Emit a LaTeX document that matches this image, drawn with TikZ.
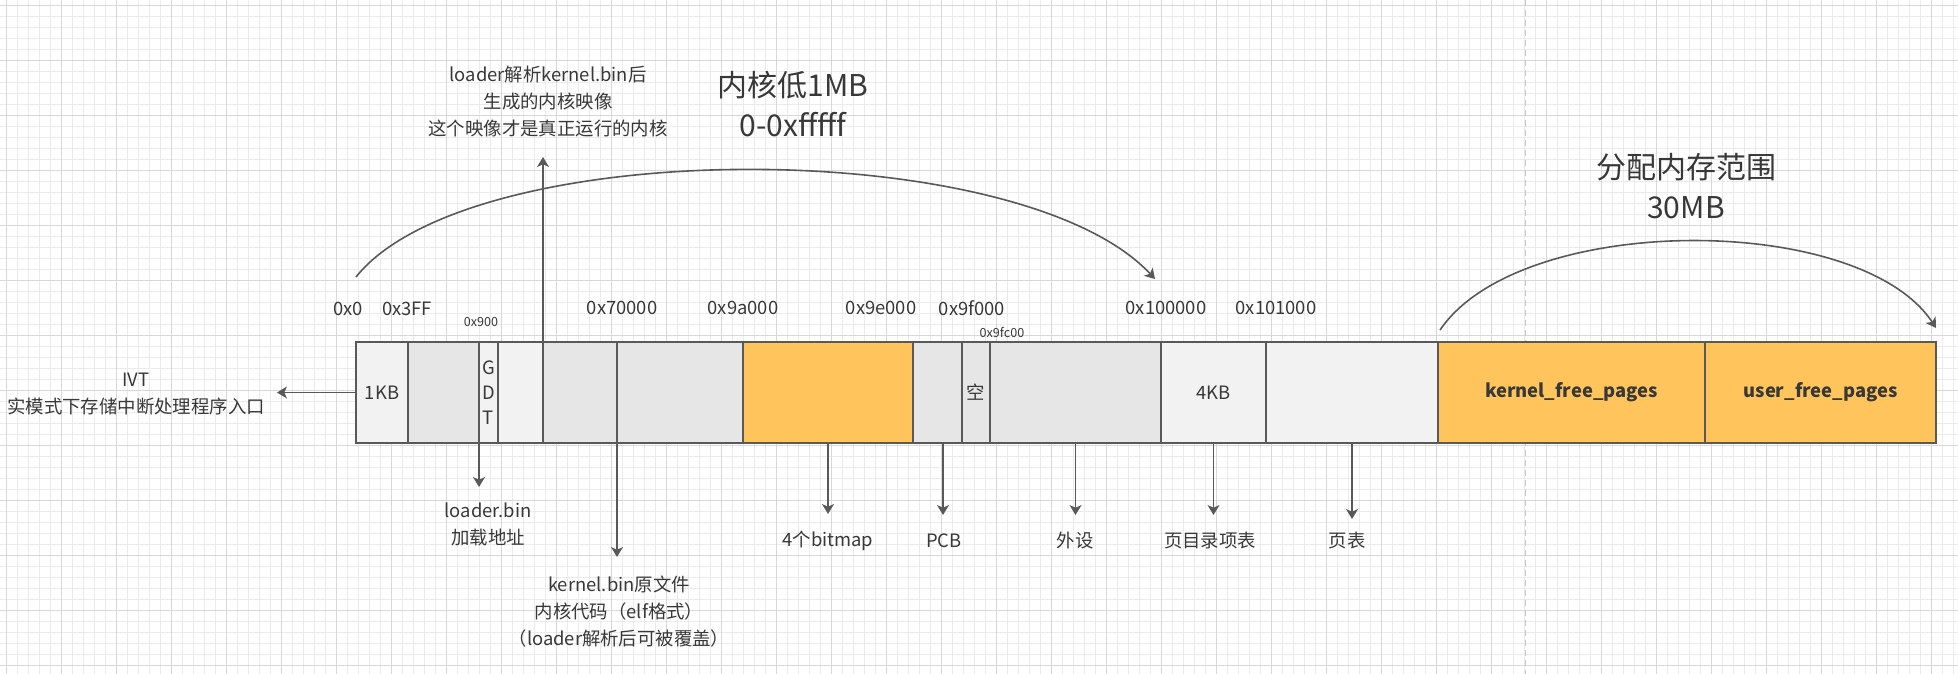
\documentclass[tikz,border=0pt]{standalone}
\usepackage{fontspec}
\setmainfont{Noto Sans CJK SC}
\usepackage{tikz}
\usetikzlibrary{arrows.meta}
\definecolor{memline}{HTML}{595959}
\definecolor{memlight}{HTML}{F2F2F2}
\definecolor{memdark}{HTML}{E6E6E6}
\definecolor{memorange}{HTML}{FFC55C}
\definecolor{memtext}{HTML}{383838}
\definecolor{gridminor}{HTML}{EBEBEB}
\definecolor{gridmajor}{HTML}{D8D8D8}
\newcommand{\blkmid}{392.5}
\newcommand{\memblk}[5]{\node[#1, minimum width={(#4-#3)*0.5pt}, anchor=west] (#2) at (#3,\blkmid) {#5};}

\begin{document}
\begin{tikzpicture}[x=0.5pt,y=-0.5pt]
  \tikzset{
    blk/.style = {draw=memline, line width=1.2pt, minimum height=50.5pt, inner sep=0pt, outer sep=0pt,
                  text=memtext, font=\fontsize{9.2}{12.5}\selectfont, align=center},
    lightblk/.style = {blk, fill=memlight},
    darkblk/.style = {blk, fill=memdark},
    poolblk/.style = {blk, fill=memorange, font=\fontsize{9.2}{12.5}\selectfont\bfseries},
    conn/.style = {draw=memline, line width=0.8pt, -{Stealth[length=5pt,width=6pt,inset=1.4pt]}},
    lbl/.style = {text=memtext, font=\fontsize{9.2}{13.5}\selectfont, align=center, inner sep=0pt},
    addr/.style = {lbl},
    smalladdr/.style = {lbl, font=\fontsize{6.3}{8}\selectfont},
    title/.style = {lbl, font=\fontsize{15}{20}\selectfont}
  }
  \useasboundingbox (0,0) rectangle (1958,674);
  % grid
  \foreach \gx in {6,17,...,1958} \draw[gridminor, line width=0.5pt] (\gx,0) -- (\gx,674);
  \foreach \gy in {5.5,16.5,...,674} \draw[gridminor, line width=0.5pt] (0,\gy) -- (1958,\gy);
  \foreach \gx in {6,61,...,1958} \draw[gridmajor, line width=0.5pt] (\gx,0) -- (\gx,674);
  \foreach \gy in {5.5,60.5,...,674} \draw[gridmajor, line width=0.5pt] (0,\gy) -- (1958,\gy);
  \draw[color=black!22, line width=0.5pt, dash pattern=on 3pt off 2pt] (1525,0) -- (1525,674);

  % memory layout
  \memblk{lightblk}{ivt}{356}{408}{1KB}
  \memblk{darkblk}{biosgap}{408}{479}{}
  \memblk{lightblk}{gdt}{479}{498}{G\\D\\T}
  \memblk{lightblk}{kimage}{498}{543}{}
  \memblk{darkblk}{lowfree}{543}{617}{}
  \memblk{darkblk}{kfile}{617}{743}{}
  \memblk{poolblk}{bitmap}{743}{913}{}
  \memblk{darkblk}{pcb}{913}{962}{}
  \memblk{darkblk}{hole}{962}{990}{空}
  \memblk{darkblk}{periph}{990}{1161}{}
  \memblk{lightblk}{pdt}{1161}{1266}{4KB}
  \memblk{lightblk}{pt}{1266}{1438}{}
  \memblk{poolblk}{kpool}{1438}{1705}{kernel\_free\_pages}
  \memblk{poolblk}{upool}{1705}{1936}{user\_free\_pages}

  % addresses
  \node[addr] (a0) at (348,309) {0x0};
  \node[addr] (a3ff) at (407,309) {0x3FF};
  \node[smalladdr] (a900) at (481,322) {0x900};
  \node[addr] (a70000) at (622,308) {0x70000};
  \node[addr] (a9a000) at (743,308) {0x9a000};
  \node[addr] (a9e000) at (881,308) {0x9e000};
  \node[addr] (a9f000) at (972,308) {0x9f000};
  \node[smalladdr] (a9fc00) at (1002,332) {0x9fc00};
  \node[addr] (a100000) at (1166,308) {0x100000};
  \node[addr] (a101000) at (1276,308) {0x101000};

  % ranges
  \node[title] (lowmb) at (793,104) {内核低1MB\\0-0xfffff};
  \node[title] (poolsz) at (1686,186) {分配内存范围\\30MB};
  \coordinate (lowstart) at (356,277);
  \coordinate (lowend) at (1155,279);
  \coordinate (poolstart) at (1440,330);
  \coordinate (poolend) at (1936,328);
  \draw[conn] (lowstart) .. controls (470,134) and (1020,134) .. (lowend);
  \draw[conn] (poolstart) .. controls (1520,212) and (1860,212) .. (poolend);

  % notes
  \coordinate (ivtend) at (277,\blkmid);
  \coordinate (kimgend) at (543,157);
  \coordinate (ldrend) at (479,487);
  \coordinate (kfileend) at (617,557);
  \coordinate (bmpend) at (828,514);
  \coordinate (pcbend) at (943,515);
  \coordinate (periphend) at (1075.5,515);
  \coordinate (pdtend) at (1213.5,515);
  \coordinate (ptend) at (1352,519);
  \draw[conn] (ivt.west) -- (ivtend);
  \draw[conn] (kimage.north east) -- (kimgend);
  \draw[conn] (gdt.south west) -- (ldrend);
  \draw[conn] (kfile.south west) -- (kfileend);
  \draw[conn] (bitmap.south) -- (bmpend);
  \draw[conn] ([xshift=2.75pt]pcb.south) -- (pcbend);
  \draw[conn] (periph.south) -- (periphend);
  \draw[conn] (pdt.south) -- (pdtend);
  \draw[conn] (pt.south) -- (ptend);

  \node[lbl] (ivtlbl) at (136,394) {IVT\\实模式下存储中断处理程序入口};
  \node[lbl] (kimglbl) at (548,102) {loader解析kernel.bin后\\生成的内核映像\\这个映像才是真正运行的内核};
  \node[lbl] (ldrlbl) at (488,524) {loader.bin\\加载地址};
  \node[lbl] (kfilelbl) at (619,612) {kernel.bin原文件\\内核代码（elf格式）\\（loader解析后可被覆盖）};
  \node[lbl] (bmplbl) at (828,541) {4个bitmap};
  \node[lbl] (pcblbl) at (944,541) {PCB};
  \node[lbl] (periphlbl) at (1075,541) {外设};
  \node[lbl] (pdtlbl) at (1210,541) {页目录项表};
  \node[lbl] (ptlbl) at (1347,541) {页表};
\end{tikzpicture}
\end{document}
